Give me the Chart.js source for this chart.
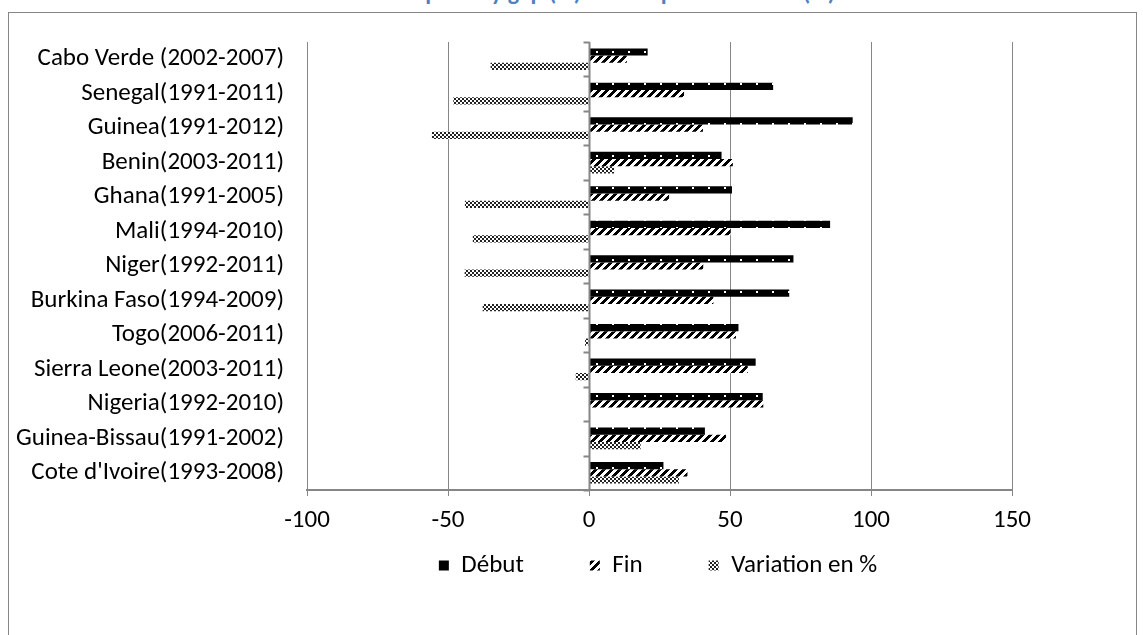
<!DOCTYPE html>
<html>
<head>
<meta charset="utf-8">
<script src="https://cdn.jsdelivr.net/npm/chart.js"></script>
<style>
  body { margin: 0; background: #fff; overflow: hidden; }
  #frame { position: absolute; left: 8px; top: 12px; width: 1127px; height: 700px; border: 1px solid #868686; }
  #title { position: absolute; left: 0; top: -21px; width: 1130px; text-align: center; color: #4f81bd;
           font: bold 24px Carlito, Lato, sans-serif; line-height: 26px; white-space: nowrap; }
  #wrap { position: absolute; left: 0; top: 0; width: 1143px; height: 635px; }
</style>
</head>
<body>
<div id="frame"></div>
<div id="title">Evolution du poverty gap (%) en Afrique de l'Ouest (%)</div>
<div id="wrap"><canvas id="chart"></canvas></div>
<script>
const countries = ['Cabo Verde (2002-2007)', 'Senegal(1991-2011)', 'Guinea(1991-2012)', 'Benin(2003-2011)',
  'Ghana(1991-2005)', 'Mali(1994-2010)', 'Niger(1992-2011)', 'Burkina Faso(1994-2009)', 'Togo(2006-2011)',
  'Sierra Leone(2003-2011)', 'Nigeria(1992-2010)', 'Guinea-Bissau(1991-2002)', "Cote d'Ivoire(1993-2008)"];
const debut     = [20.8, 65.3, 93.5, 47.0, 50.7, 85.5, 72.5, 71.0, 53.0, 59.1, 61.6, 41.1, 26.4];
const fin       = [13.4, 33.7, 40.4, 51.0, 28.4, 50.2, 40.5, 44.1, 52.1, 56.3, 61.8, 48.6, 34.9];
const variation = [-34.9, -48.1, -55.7, 8.9, -44.0, -41.2, -44.1, -37.7, -1.4, -4.7, 0.3, 18.3, 31.9];
const xTicks = [-100, -50, 0, 50, 100, 150];

const FONT = 'Carlito, Lato, sans-serif';
const FSIZE = 25;
const GREY = '#868686';

// little excel-like fill patterns
function makePattern(w, h, draw) {
  const c = document.createElement('canvas');
  c.width = w; c.height = h;
  const g = c.getContext('2d');
  draw(g);
  return g.createPattern(c, 'repeat');
}
const dotted = makePattern(16, 8, g => {
  g.fillStyle = '#000'; g.fillRect(0, 0, 16, 8);
  g.fillStyle = '#fff'; g.fillRect(4, 3, 2, 2);
});
const striped = makePattern(8, 8, g => {
  g.fillStyle = '#fff'; g.fillRect(0, 0, 8, 8);
  g.fillStyle = '#000';
  for (let y = 0; y < 8; y++) {
    for (let k = 0; k < 4; k++) g.fillRect((7 - y + k) % 8, y, 1, 1);
  }
});
const checker = makePattern(4, 4, g => {
  g.fillStyle = '#fff'; g.fillRect(0, 0, 4, 4);
  g.fillStyle = '#222'; g.fillRect(0, 0, 2, 2); g.fillRect(2, 2, 2, 2);
});

// vertical category axis sits on x = 0, with its tick marks
const zeroAxis = {
  id: 'zeroAxis',
  afterDatasetsDraw(chart) {
    const { ctx, chartArea, scales: { x, y } } = chart;
    const x0 = Math.round(x.getPixelForValue(0)) + 0.5;
    const half = (y.getPixelForValue(1) - y.getPixelForValue(0)) / 2;
    ctx.save();
    ctx.strokeStyle = GREY;
    ctx.lineWidth = 2;
    ctx.beginPath();
    ctx.moveTo(x0, chartArea.top);
    ctx.lineTo(x0, chartArea.bottom);
    for (let i = 0; i <= countries.length; i++) {
      const py = Math.round(y.getPixelForValue(i) - half) + 0.5;
      ctx.moveTo(x0 - 6, py);
      ctx.lineTo(x0, py);
    }
    ctx.stroke();
    ctx.restore();
  }
};

// legend padding is wide for the item spacing, so pull the row back up under
// the axis and centre it like excel does (right of the canvas middle)
const legendNudge = {
  id: 'legendNudge',
  afterLayout(chart) {
    const l = chart.legend;
    l.top -= 45;
    l.bottom -= 45;
    l.left += 152;
    l.right += 152;
  }
};

new Chart(document.getElementById('chart'), {
  type: 'bar',
  data: {
    labels: countries,
    datasets: [
      { label: 'Début', data: debut, backgroundColor: dotted },
      { label: 'Fin', data: fin, backgroundColor: striped },
      { label: 'Variation en %', data: variation, backgroundColor: checker }
    ]
  },
  options: {
    indexAxis: 'y',
    responsive: true,
    maintainAspectRatio: false,
    animation: false,
    devicePixelRatio: 1,
    layout: { padding: { left: 0, right: 131, top: 42, bottom: 2 } },
    datasets: { bar: { barPercentage: 1, categoryPercentage: 0.63 } },
    scales: {
      x: {
        type: 'linear',
        min: -100, max: 150,
        afterBuildTicks: s => { s.ticks = xTicks.map(v => ({ value: v })); },
        afterFit: s => { s.height = 42; },
        ticks: { color: '#000', font: { family: FONT, size: FSIZE }, padding: 10 },
        grid: { color: GREY, lineWidth: 1, tickLength: 6 },
        border: { color: GREY, width: 2 }
      },
      y: {
        afterFit: s => { s.width = 307; },
        ticks: { color: '#000', font: { family: FONT, size: FSIZE }, padding: 15, autoSkip: false },
        grid: { display: false },
        border: { display: false }
      }
    },
    plugins: {
      legend: {
        position: 'bottom',
        labels: { color: '#000', font: { family: FONT, size: FSIZE }, boxWidth: 10, boxHeight: 10, padding: 66 }
      },
      tooltip: { enabled: false }
    }
  },
  plugins: [zeroAxis, legendNudge]
});
</script>
</body>
</html>
